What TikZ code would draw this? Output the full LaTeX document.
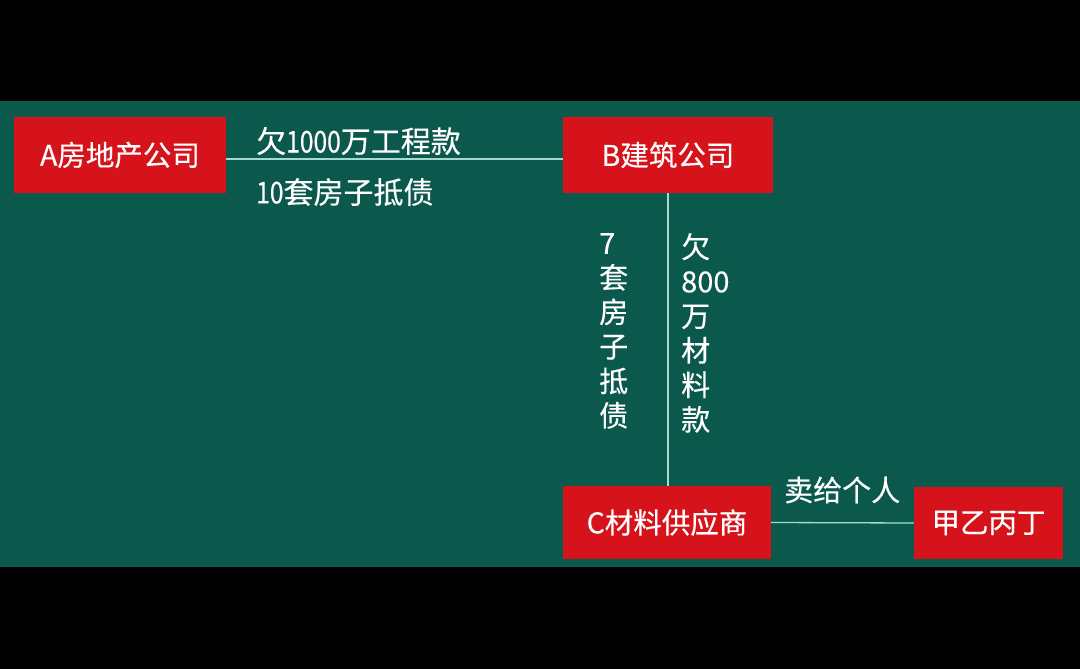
\documentclass[tikz,border=0pt]{standalone}
\usepackage{fontspec}
\setmainfont[FakeBold=0.35]{Noto Sans CJK SC}
\newfontfamily\narrowdig[FakeStretch=0.82,FakeBold=0.35]{Noto Sans CJK SC}
\newcommand{\dg}[1]{{\narrowdig #1}}
\definecolor{panel}{RGB}{11,88,77}
\definecolor{boxred}{RGB}{214,18,26}
\definecolor{linec}{RGB}{165,218,208}
\begin{document}
\begin{tikzpicture}[x=1pt,y=-1pt,
  box/.style={fill=boxred, draw=none, inner sep=0pt, text=white, font=\fontsize{28.5}{34}\selectfont},
  lbl/.style={text=white, inner sep=0pt, font=\fontsize{30}{34.5}\selectfont},
  vlbl/.style={text=white, inner sep=0pt, font=\fontsize{29}{34.5}\selectfont},
  conn/.style={draw=linec, line width=1.3pt}]
\fill[black] (0,0) rectangle (1080,669);
\fill[panel] (0,101) rectangle (1080,567);
\useasboundingbox (0,0) rectangle (1080,669);
\node[box, minimum width=212, minimum height=76] (A) at (120,155) {A房地产公司};
\node[box, minimum width=210, minimum height=76] (B) at (668,155) {B建筑公司};
\node[box, minimum width=208, minimum height=73] (C) at (667,522.5) {C材料供应商};
\node[box, minimum width=149, minimum height=72] (D) at (988.5,523) {甲乙丙丁};
\draw[conn] ([yshift=-4pt]A.east) -- ([yshift=-4pt]B.west);
\draw[conn] (B.south) -- (B.south |- C.north);
\draw[conn] (C.east) -- (D.west);
\node[lbl, anchor=west] (l1) at (256,141) {欠\dg{1000}万工程款};
\node[lbl, anchor=west] (l2) at (256,192) {\dg{10}套房子抵债};
\node[vlbl, anchor=west] (l3) at (784,490) {卖给个人};
\node[vlbl, anchor=north west, align=left] (l4) at (599,233) {7\\套\\房\\子\\抵\\债};
\node[vlbl, anchor=north west, align=left] (l5) at (681,233) {欠\\800\\万\\材\\料\\款};
\end{tikzpicture}
\end{document}
